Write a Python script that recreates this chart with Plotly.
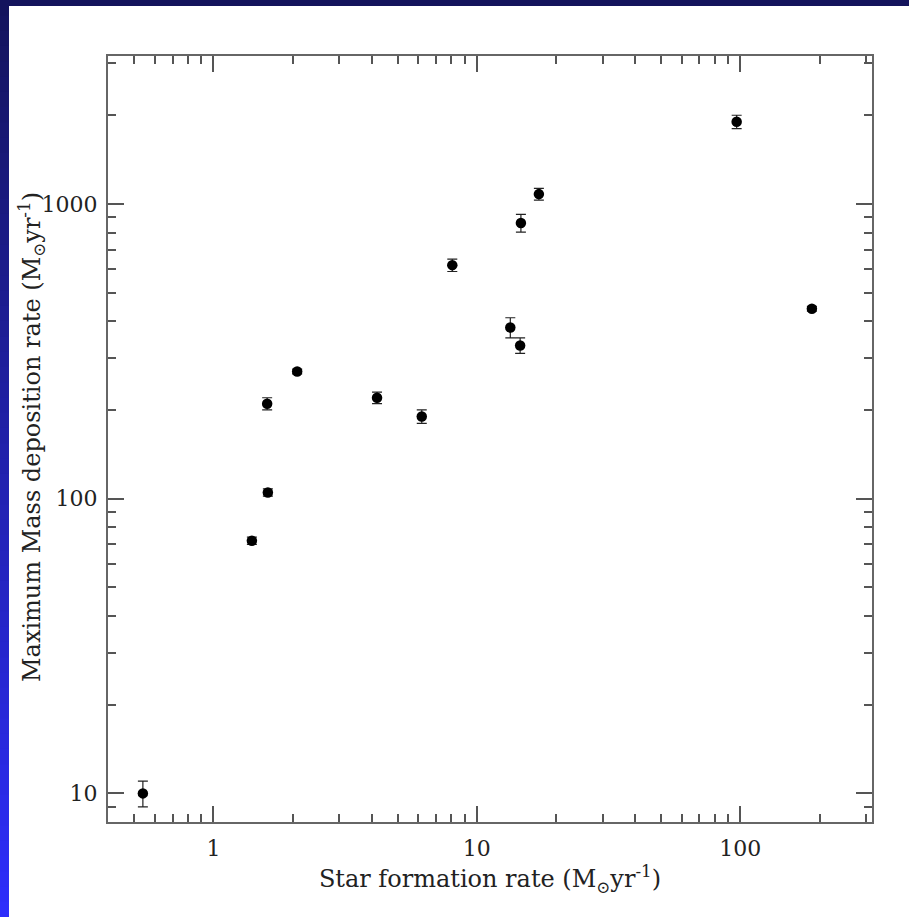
import plotly.graph_objects as go

# Star formation rate vs. maximum mass deposition rate (log-log)
sfr = [0.54, 1.40, 1.61, 1.60, 2.08, 4.18, 6.18, 8.07, 13.4, 14.6, 14.7, 17.2, 96.9, 187.0]
mdot = [10.0, 72.0, 105.0, 210.0, 270.0, 220.0, 190.0, 620.0, 381.0, 331.0, 862.0, 1080.0, 1900.0, 441.0]
mdot_err = [1.0, 2.0, 3.0, 10.0, 5.0, 10.0, 10.0, 30.0, 30.0, 20.0, 60.0, 50.0, 100.0, 8.0]

x_major = [1, 10, 100]
x_major_text = ["1", "10", "100"]
y_major = [10, 100, 1000]
y_major_text = ["10", "100", "1000"]
x_minor = [0.4, 0.5, 0.6, 0.7, 0.8, 0.9] + [m * d for d in (1, 10) for m in range(2, 10)] + [200, 300]
y_minor = [8, 9] + [m * d for d in (10, 100) for m in range(2, 10)] + [2000, 3000]

x_title = "Star formation rate (M<sub>⊙</sub>yr<sup>-1</sup>)"
y_title = "Maximum Mass deposition rate (M<sub>⊙</sub>yr<sup>-1</sup>)"

W, H = 909, 917
L, R, T, B = 108, 872, 56, 822

fig = go.Figure()
fig.add_trace(go.Scatter(
    x=sfr, y=mdot, mode="markers",
    marker=dict(color="black", size=10.5),
    error_y=dict(type="data", array=mdot_err, visible=True,
                 color="#222222", thickness=1.2, width=5),
    showlegend=False,
))

# slide frame: dark band on top, vertical blue gradient band on the left
def px_x(p):
    return (p - L) / (R - L)

def px_y(p):
    return (B - p) / (B - T)

shapes = [dict(type="rect", xref="paper", yref="paper",
               x0=px_x(0), x1=px_x(W), y0=px_y(0), y1=px_y(6),
               fillcolor="#14145c", line=dict(width=0), layer="below")]
top_c = (0x14, 0x14, 0x5c)
bot_c = (0x2e, 0x2e, 0xfc)
n = 60
for i in range(n):
    f = (i + 0.5) / n
    c = tuple(int(round(a + (b - a) * f)) for a, b in zip(top_c, bot_c))
    y0 = H * i / n
    y1 = H * (i + 1) / n + 1
    shapes.append(dict(type="rect", xref="paper", yref="paper",
                       x0=px_x(0), x1=px_x(9), y0=px_y(y0), y1=px_y(y1),
                       fillcolor="rgb(%d,%d,%d)" % c, line=dict(width=0), layer="below"))

tick_font = dict(family="DejaVu Serif", size=22, color="#222222")
title_font = dict(family="DejaVu Serif", size=24, color="#222222")
axis_common = dict(
    type="log", showgrid=False, zeroline=False,
    showline=True, linecolor="#666666", linewidth=2, mirror="allticks",
    ticks="inside", ticklen=16, tickwidth=1.5, tickcolor="#555555",
    tickfont=tick_font,
)

fig.update_layout(
    width=W, height=H,
    margin=dict(l=L, r=W - R, t=T, b=H - B),
    paper_bgcolor="white", plot_bgcolor="white",
    shapes=shapes,
    xaxis=dict(axis_common, range=[-0.4, 2.5],
               tickmode="array", tickvals=x_major, ticktext=x_major_text,
               ticklabelstandoff=6,
               minor=dict(tickmode="array", tickvals=x_minor, ticks="inside",
                          ticklen=8, tickwidth=1.5, tickcolor="#555555"),
               title=dict(text=x_title, font=title_font, standoff=6)),
    yaxis=dict(axis_common, range=[0.903, 3.502],
               tickmode="array", tickvals=y_major, ticktext=y_major_text,
               ticklabelstandoff=4,
               minor=dict(tickmode="array", tickvals=y_minor, ticks="inside",
                          ticklen=8, tickwidth=1.5, tickcolor="#555555")),
    annotations=[dict(text=y_title, xref="paper", yref="paper",
                      x=px_x(31), y=px_y(437), textangle=-90,
                      showarrow=False, font=title_font,
                      xanchor="center", yanchor="middle")],
)

fig.write_html("out.html")
